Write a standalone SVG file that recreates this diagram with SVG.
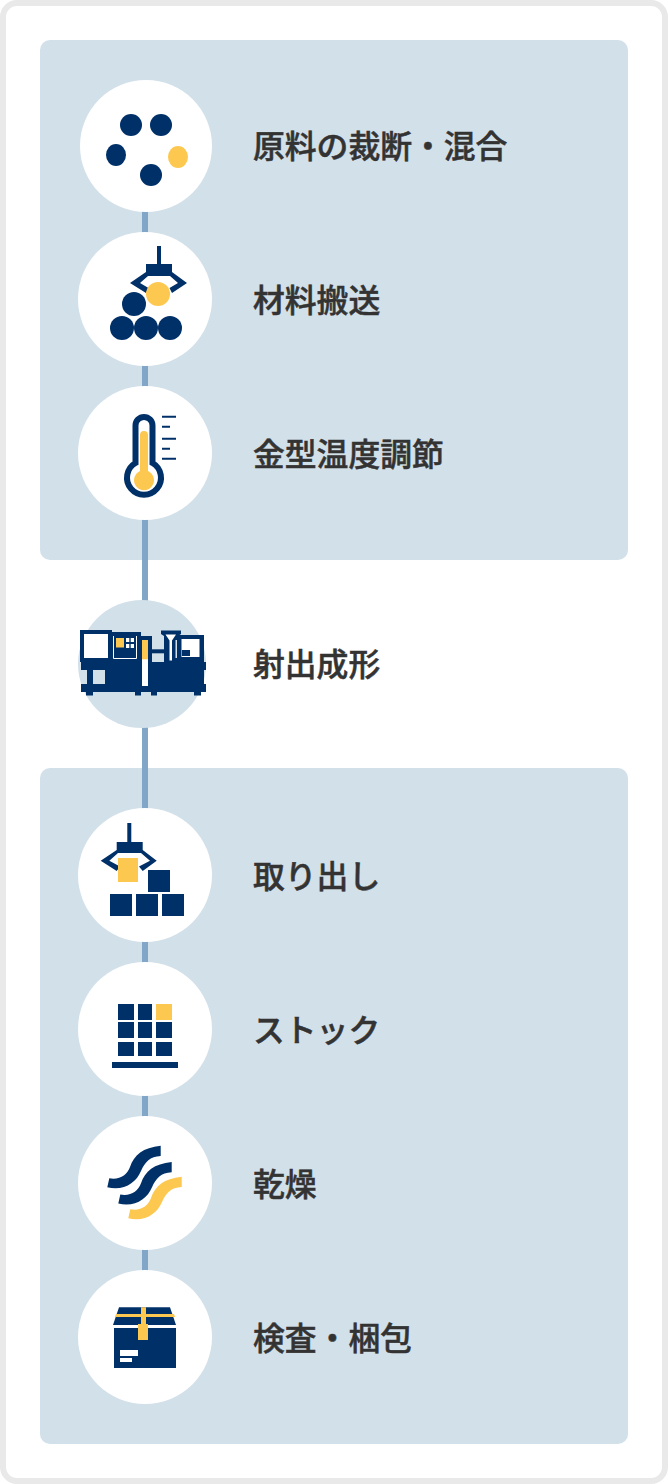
<svg xmlns="http://www.w3.org/2000/svg" width="668" height="1484" viewBox="0 0 668 1484">
<style>
.panel{fill:#d2e0e9}
.white{fill:#fff}
.navy{fill:#003068}
.yellow{fill:#fcc850}
.light{fill:#d2e0e9}
.line{stroke:#82a6c8;stroke-width:6;fill:none}
.tick{stroke:#003068;stroke-width:2;fill:none}
text{font-family:"Noto Sans CJK JP","Noto Sans",sans-serif;font-weight:500;font-size:31.8px;fill:#333;stroke:#333;stroke-width:.5px}
</style>
<defs>
<path id="wave" d="M109.300 1178.300C120 1180 127 1175 130 1167 134 1155 143 1147.500 160.700 1145.700L160.700 1156C150 1156.500 145 1162 141 1171 136 1183 124 1191 107.300 1187.300Z"/>
</defs>
<rect x="3" y="3" width="662" height="1478" rx="14" fill="#fff" stroke="#e9e9e9" stroke-width="6"/>
<g id="panels">
<rect class="panel" x="40" y="40" width="588" height="520" rx="10"/>
<rect class="panel" x="40" y="768" width="588" height="676" rx="10"/>
</g>
<g id="connectors">
<path class="line" d="M145 200V1290"/>
</g>
<g id="node-1">
<circle class="white" cx="146" cy="146" r="66"/>
<circle class="navy" cx="131" cy="125" r="11"/>
<circle class="navy" cx="161" cy="125" r="11"/>
<ellipse class="navy" cx="116" cy="155" rx="10" ry="11"/>
<ellipse class="yellow" cx="178" cy="157" rx="10" ry="11"/>
<circle class="navy" cx="151" cy="175" r="11"/>
<text x="253" y="158">原料の裁断・混合</text>
</g>
<g id="node-2">
<circle class="white" cx="145" cy="299" r="67"/>
<path class="navy" d="M157 246H161V264H172V272L187 283 172 293 169.500 288 178 283 170 276H148L140 283 148.500 288 146 293 130 283 146 272V264H157Z"/>
<circle class="yellow" cx="158" cy="294" r="12"/>
<circle class="navy" cx="134" cy="304" r="12"/>
<circle class="navy" cx="122" cy="328" r="12"/>
<circle class="navy" cx="146" cy="328" r="12"/>
<circle class="navy" cx="170" cy="328" r="12"/>
<text x="253" y="312">材料搬送</text>
</g>
<g id="node-3">
<circle class="white" cx="145" cy="453" r="67"/>
<path d="M135.500 425.500a8.500 8.500 0 0 1 17 0V463a17 17 0 1 1-17 0z" fill="#fff" stroke="#003068" stroke-width="6"/>
<path class="yellow" d="M140 435a4 4 0 0 1 8 0v36a10 10 0 1 1-8 0z"/>
<path class="tick" d="M162 416.700h14M162 426.700h8M162 438.700h14M162 448.700h8M162 458.700h14"/>
<text x="253" y="466">金型温度調節</text>
</g>
<g id="node-4">
<circle class="light" cx="142" cy="664" r="64"/>
<rect class="navy" x="80" y="630" width="32" height="32"/>
<rect class="white" x="84" y="634" width="24" height="24"/>
<rect class="navy" x="112" y="632" width="29" height="30"/>
<path d="M113.500 636V658.500H136.500V636" fill="none" stroke="#fff" stroke-width="1"/>
<rect class="yellow" x="116" y="638" width="8" height="9.500"/>
<path class="white" d="M126 638h3.300v4H126zM130.700 638h3.300v4h-3.300zM126 644h3.300v4H126zM130.700 644h3.300v4h-3.300z"/>
<rect class="navy" x="141" y="636" width="11" height="30"/>
<rect class="navy" x="152" y="649.300" width="15" height="4"/>
<path class="navy" d="M161 630.500h20v3.500l-3 2v26h-14v-26l-3-2z"/>
<rect class="navy" x="177" y="635" width="27" height="27"/>
<rect class="white" x="181.500" y="639" width="18" height="18"/>
<rect class="navy" x="182" y="650" width="8" height="6"/>
<path class="white" d="M165.500 634.500h10.500l-4 6v20h-2.500v-20z"/>
<rect class="light" x="175.500" y="640" width="1.500" height="18"/>
<path class="navy" d="M81 662h125v8h-2v14h2v8H81v-8h6v-14h-6z"/>
<rect class="light" x="93" y="670" width="12" height="14"/>
<path class="navy" d="M86 692h7v3.500h-7zM135 692h6v3.500h-6zM151 692h6v3.500h-6zM194 692h7v3.500h-7z"/>
<rect class="white" x="142" y="640" width="6" height="46"/>
<rect class="yellow" x="142" y="640" width="6" height="19.300"/>
<text x="253" y="676">射出成形</text>
</g>
<g id="node-5">
<circle class="white" cx="145" cy="875" r="67"/>
<path class="navy" d="M127.300 823H131.300V842H142.700V850L156.700 860.700 142.700 871 139 866.500 150 860.700 141 853H118L109.300 860.700 120 866.500 116.700 871 100.700 860.700 116.700 850V842H127.300Z"/>
<rect class="yellow" x="118" y="858" width="20" height="24"/>
<rect class="navy" x="148" y="870" width="22" height="22"/>
<rect class="navy" x="110" y="894" width="22" height="22"/>
<rect class="navy" x="136" y="894" width="22" height="22"/>
<rect class="navy" x="162" y="894" width="22" height="22"/>
<text x="253" y="888">取り出し</text>
</g>
<g id="node-6">
<circle class="white" cx="145" cy="1029" r="67"/>
<rect class="navy" x="118" y="1004" width="16" height="16"/>
<rect class="navy" x="138" y="1004" width="14" height="16"/>
<rect class="yellow" x="156" y="1004" width="16" height="16"/>
<rect class="navy" x="118" y="1022" width="16" height="16"/>
<rect class="navy" x="138" y="1022" width="14" height="16"/>
<rect class="navy" x="156" y="1022" width="16" height="16"/>
<rect class="navy" x="118" y="1042" width="16" height="14"/>
<rect class="navy" x="138" y="1042" width="14" height="14"/>
<rect class="navy" x="156" y="1042" width="16" height="14"/>
<rect class="navy" x="112" y="1062" width="66" height="6"/>
<text x="253" y="1042">ストック</text>
</g>
<g id="node-7">
<circle class="white" cx="145" cy="1183" r="67"/>
<use href="#wave" class="navy"/>
<use href="#wave" class="navy" transform="translate(11 16.300)"/>
<use href="#wave" class="yellow" transform="translate(21 31)"/>
<text x="253" y="1196">乾燥</text>
</g>
<g id="node-8">
<circle class="white" cx="145" cy="1337" r="67"/>
<path class="navy" d="M119 1307.300h51l6 17.700h-63z"/>
<rect class="navy" x="114" y="1328" width="62" height="40"/>
<path class="yellow" d="M116 1314h58l1 3h-60z"/>
<path class="yellow" d="M141 1307.300h5V1324h2v16h-10v-16h3z"/>
<rect class="white" x="120" y="1350" width="18" height="6"/>
<rect class="white" x="120" y="1358" width="12" height="4"/>
<text x="253" y="1350">検査・梱包</text>
</g>
</svg>
